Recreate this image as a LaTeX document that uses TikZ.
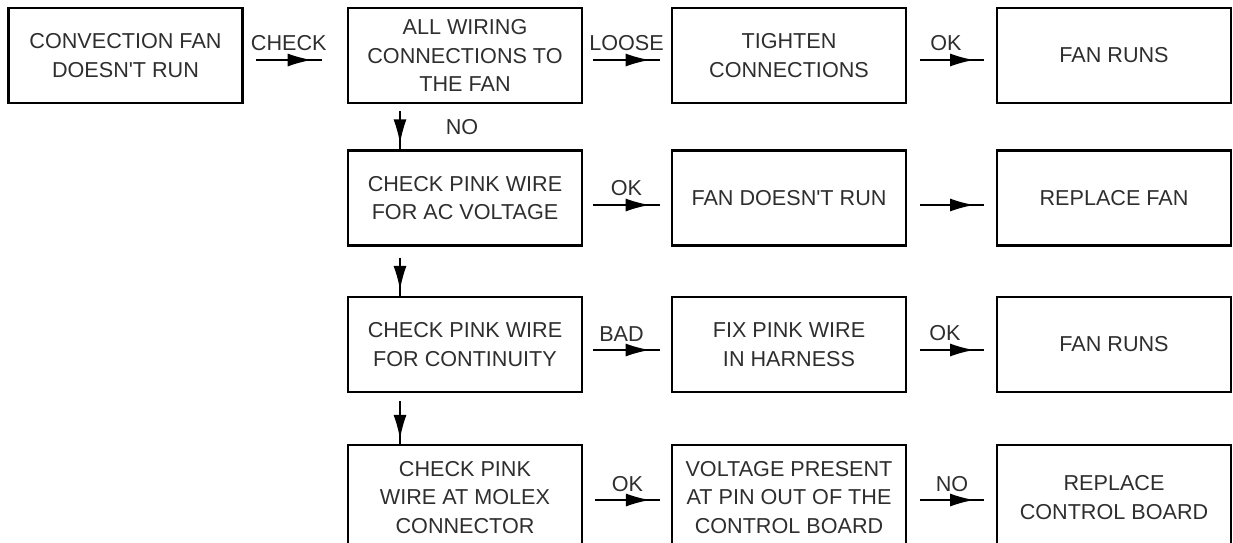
\documentclass[tikz,border=0pt]{standalone}
\usepackage{fontspec}
\setmainfont{Liberation Sans}
\usetikzlibrary{decorations.markings,arrows.meta}
\tikzset{
  box/.style={draw=black, line width=2.9pt, minimum width=234pt, minimum height=95pt,
    align=center, inner sep=0pt, text=black!82, font=\fontsize{21.6}{28.5}\selectfont},
  tallbox/.style={box, minimum height=105pt},
  flow/.style={line width=1.6pt, draw=black,
    postaction={decorate},
    decoration={markings, mark=at position 0.85 with {\arrow{Latex[length=24pt,width=13pt]}}}},
  lbl/.style={text=black!82, font=\fontsize{21.6}{24}\selectfont, inner sep=0pt},
}
\newcommand{\apos}{\textquotesingle}
\begin{document}
\begin{tikzpicture}[x=1pt,y=-1pt]
\useasboundingbox (0,0) rectangle (1233,542);
\clip (0,0) rectangle (1233,542);
% row 1
\node[box] (A) at (125.5,55.5) {CONVECTION FAN\\DOESN\apos T RUN};
\node[box] (B) at (465,55.5) {ALL WIRING\\CONNECTIONS TO\\THE FAN};
\node[box] (C) at (789,55.5) {TIGHTEN\\CONNECTIONS};
\node[box] (D) at (1114,55.5) {FAN RUNS};
% row 2
\node[box] (B2) at (465,198) {CHECK PINK WIRE\\FOR AC VOLTAGE};
\node[box] (C2) at (789,198) {FAN DOESN\apos T RUN};
\node[box] (D2) at (1114,198) {REPLACE FAN};
% row 3
\node[box] (B3) at (465,344.5) {CHECK PINK WIRE\\FOR CONTINUITY};
\node[box] (C3) at (789,344.5) {FIX PINK WIRE\\IN HARNESS};
\node[box] (D3) at (1114,344.5) {FAN RUNS};
% row 4
\node[tallbox] (B4) at (465,497.5) {CHECK PINK\\WIRE AT MOLEX\\CONNECTOR};
\node[tallbox] (C4) at (789,497.5) {VOLTAGE PRESENT\\AT PIN OUT OF THE\\CONTROL BOARD};
\node[tallbox] (D4) at (1114,497.5) {REPLACE\\CONTROL BOARD};
% row 1 connectors
\draw[flow] ([xshift=12pt,yshift=-4.5pt]A.east) -- node[lbl,above=8pt]{CHECK} ([xshift=-25pt,yshift=-4.5pt]B.west);
\draw[flow] ([xshift=10pt,yshift=-4.5pt]B.east) -- node[lbl,above=8pt]{LOOSE} ([xshift=-11pt,yshift=-4.5pt]C.west);
\draw[flow] ([xshift=13pt,yshift=-4.5pt]C.east) -- node[lbl,above=8pt,xshift=-6pt]{OK} ([xshift=-12pt,yshift=-4.5pt]D.west);
% vertical connectors
\draw[flow] ([xshift=-65pt,yshift=-7pt]B.south) -- ([xshift=-65pt]B2.north);
\node[lbl] (no1) at (462,127) {NO};
\draw[flow] ([xshift=-65pt,yshift=-11pt]B2.south) -- ([xshift=-65pt]B3.north);
\draw[flow] ([xshift=-65pt,yshift=-8pt]B3.south) -- ([xshift=-65pt,yshift=-2pt]B4.north);
% row 2 connectors
\draw[flow] ([xshift=10pt,yshift=-7pt]B2.east) -- node[lbl,above=8pt]{OK} ([xshift=-11pt,yshift=-7pt]C2.west);
\draw[flow] ([xshift=13pt,yshift=-7pt]C2.east) -- ([xshift=-12pt,yshift=-7pt]D2.west);
% row 3 connectors
\draw[flow] ([xshift=10pt,yshift=-5.5pt]B3.east) -- node[lbl,above=8pt,xshift=-5pt]{BAD} ([xshift=-11pt,yshift=-5.5pt]C3.west);
\draw[flow] ([xshift=13pt,yshift=-5.5pt]C3.east) -- node[lbl,above=8pt,xshift=-7pt]{OK} ([xshift=-12pt,yshift=-5.5pt]D3.west);
% row 4 connectors
\draw[flow] ([xshift=12pt,yshift=-2.5pt]B4.east) -- node[lbl,above=8pt]{OK} ([xshift=-11pt,yshift=-2.5pt]C4.west);
\draw[flow] ([xshift=13pt,yshift=-2.5pt]C4.east) -- node[lbl,above=8pt]{NO} ([xshift=-12pt,yshift=-2.5pt]D4.west);
\end{tikzpicture}
\end{document}
